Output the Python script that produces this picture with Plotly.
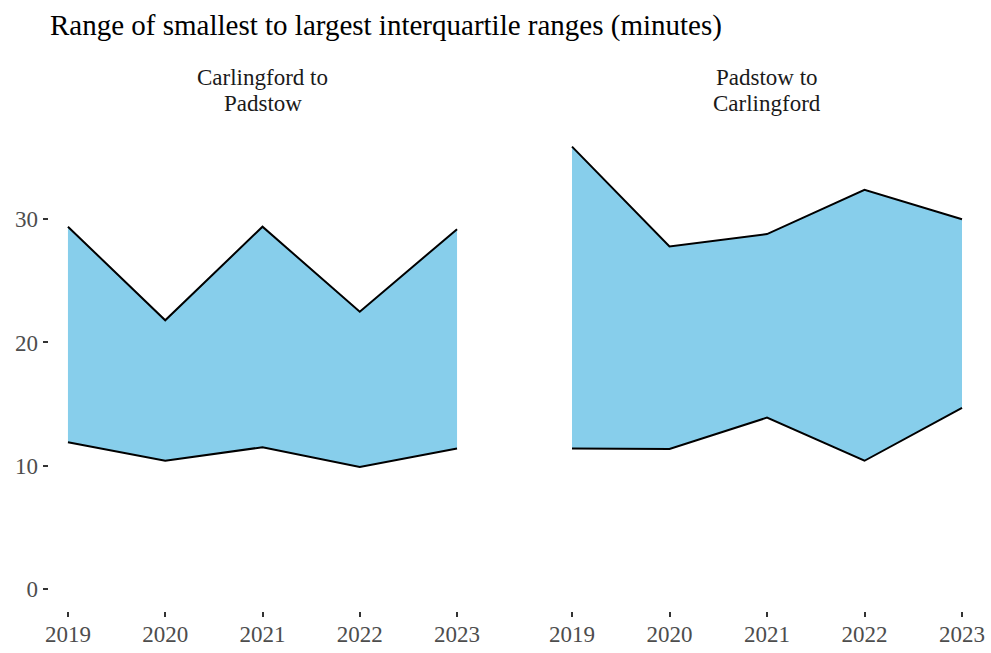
import plotly.graph_objects as go

years = [2019, 2020, 2021, 2022, 2023]

# Carlingford to Padstow
cp_low = [11.9, 10.4, 11.5, 9.9, 11.4]
cp_high = [29.4, 21.8, 29.4, 22.5, 29.2]

# Padstow to Carlingford
pc_low = [11.4, 11.35, 13.9, 10.4, 14.7]
pc_high = [35.9, 27.8, 28.8, 32.4, 30.0]

panel_titles = [["Carlingford to", "Padstow"], ["Padstow to", "Carlingford"]]
y_ticks = [0, 10, 20, 30]

FILL = "#87CEEB"
FONT = "Liberation Serif"

fig = go.Figure()

for i, (low, high) in enumerate([(cp_low, cp_high), (pc_low, pc_high)]):
    xa = "x" if i == 0 else "x2"
    ya = "y" if i == 0 else "y2"
    fig.add_trace(go.Scatter(x=years, y=low, mode="lines", line=dict(color="black", width=2),
                             xaxis=xa, yaxis=ya, showlegend=False))
    fig.add_trace(go.Scatter(x=years, y=high, mode="lines", line=dict(color="black", width=2),
                             fill="tonexty", fillcolor=FILL,
                             xaxis=xa, yaxis=ya, showlegend=False))

ymax = max(max(cp_high), max(pc_high))
yrange = [-0.05 * ymax, ymax * 1.05]

common_x = dict(range=[2018.8, 2023.2], tickvals=years, ticks="outside", ticklen=5,
                tickwidth=1.5, tickcolor="#333333", showgrid=False, zeroline=False,
                showline=False, automargin=False, ticklabelstandoff=-3,
                tickfont=dict(size=23, color="#4D4D4D", family=FONT))

fig.update_layout(
    width=991, height=653,
    margin=dict(l=0, r=0, t=0, b=0),
    plot_bgcolor="white", paper_bgcolor="white",
    font=dict(family=FONT),
    title=dict(text="Range of smallest to largest interquartile ranges (minutes)",
               x=50 / 991, xanchor="left", y=1 - 25 / 653, yanchor="middle",
               font=dict(size=29, color="black", family=FONT), automargin=False),
    xaxis=dict(domain=[48.5 / 991, 476.5 / 991], anchor="y", **common_x),
    xaxis2=dict(domain=[552.5 / 991, 981.5 / 991], anchor="y2", **common_x),
    yaxis=dict(domain=[42 / 653, 528.5 / 653], range=yrange, tickvals=y_ticks,
               ticks="outside", ticklen=5, tickwidth=1.5, tickcolor="#333333",
               showgrid=False, zeroline=False, showline=False, automargin=False,
               tickfont=dict(size=23, color="#4D4D4D", family=FONT)),
    yaxis2=dict(domain=[42 / 653, 528.5 / 653], range=yrange, anchor="x2",
                showticklabels=False, ticks="", showgrid=False, zeroline=False,
                showline=False, automargin=False),
)

for i, lines in enumerate(panel_titles):
    xd = [(48.5 + 476.5) / 2 / 991, (552.5 + 981.5) / 2 / 991][i]
    for j, t in enumerate(lines):
        fig.add_annotation(text=t, x=xd, y=1 - (77 + 26 * j) / 653, xref="paper", yref="paper",
                           xanchor="center", yanchor="middle", showarrow=False,
                           font=dict(size=23, color="#1A1A1A", family=FONT))

# drop the page's default body margin so the figure sits at the top-left corner
fig.write_html("out.html", config={"displayModeBar": False},
               post_script="document.body.style.margin='0';")
